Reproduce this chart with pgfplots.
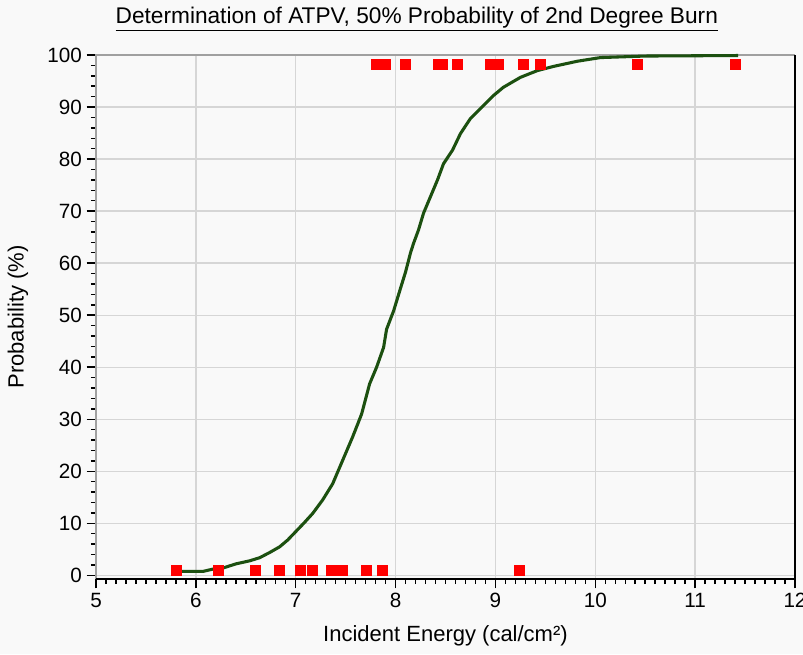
\documentclass[border=0pt]{standalone}
\usepackage{fontspec}
\setmainfont{Liberation Sans}
\usepackage{pgfplots}
\pgfplotsset{compat=1.18}
\definecolor{bg}{HTML}{F9F9F9}
\definecolor{gridc}{HTML}{D6D6D6}
\definecolor{fitc}{HTML}{1C5010}
\definecolor{frame}{HTML}{A0A0A0}

\begin{document}
\begin{tikzpicture}[font=\fontsize{15.5}{18}\selectfont]
% canvas, 0.75pt per reference pixel
\fill[bg] (-72pt,-56.25pt) rectangle (530.25pt,434.25pt);
\useasboundingbox (-72pt,-56.25pt) rectangle (530.25pt,434.25pt);
\begin{axis}[scale only axis,width=524.25pt,height=393pt,
 xmin=5,xmax=12,ymin=-0.7,ymax=100,
 xtick={5,...,12},ytick={0,10,...,100},
 minor x tick num=9,minor y tick num=4,
 xtick pos=bottom,ytick pos=left,tick align=outside,
 major tick length=7pt,minor tick length=3.75pt,
 tick style={black,line width=1.1pt},
 grid=major,grid style={gridc,line width=1pt},
 axis line style={draw=none},
 /pgf/number format/assume math mode=true,
 every axis title shift=0pt,
 title={\underline{Determination of ATPV, 50\% Probability of 2nd Degree Burn}},
 title style={at={(axis description cs:0.459,1.069)},anchor=center,font=\fontsize{17}{20}\selectfont},
 xlabel={Incident Energy (cal/cm²)},
 xlabel style={at={(axis description cs:0.5,-0.1088)},anchor=center,font=\fontsize{16.5}{19}\selectfont},
 ylabel={Probability (\%)},
 ylabel style={at={(axis description cs:-0.1116,0.5)},anchor=center,font=\fontsize{16.5}{19}\selectfont},
 clip=false]
\draw[frame,line width=1.2pt] (rel axis cs:0,0) -- (rel axis cs:0,1) -- (rel axis cs:1,1);
\draw[black,line width=1.4pt] (rel axis cs:0,0) -- (rel axis cs:1,0) -- (rel axis cs:1,1);
\addplot[fitc,line width=2.3pt,no marks] coordinates {
 (5.80,0.75) (6.07,0.75) (6.17,1.2) (6.27,1.4) (6.40,2.2) (6.54,2.8)
 (6.64,3.4) (6.74,4.4) (6.84,5.5) (6.92,6.8) (7.00,8.4) (7.08,10.0)
 (7.17,11.9) (7.27,14.5) (7.37,17.6) (7.47,22.1) (7.57,26.6) (7.66,31.0)
 (7.74,36.8) (7.81,40.0) (7.88,43.8) (7.91,47.3) (7.98,50.8) (8.05,55.2)
 (8.10,58.3) (8.15,62.0) (8.18,63.8) (8.23,66.4) (8.28,69.6) (8.35,72.8)
 (8.42,76.0) (8.48,79.1) (8.57,81.7) (8.65,84.9) (8.75,87.8) (8.85,89.7)
 (8.98,92.2) (9.08,93.8) (9.25,95.7) (9.42,97.0) (9.58,97.8) (9.82,98.8)
 (10.05,99.5) (10.50,99.8) (11.43,99.9)};
\addplot[only marks,mark=square*,mark size=3.75pt,red,mark options={draw=none,fill=red}] coordinates {
 (5.80,0.9) (6.22,0.9) (6.59,0.9) (6.84,0.9) (7.05,0.9) (7.17,0.9)
 (7.36,0.9) (7.47,0.9) (7.71,0.9) (7.87,0.9) (9.24,0.9)};
\addplot[only marks,mark=square*,mark size=3.75pt,red,mark options={draw=none,fill=red}] coordinates {
 (7.81,98.3) (7.90,98.3) (8.10,98.3) (8.43,98.3) (8.47,98.3) (8.62,98.3)
 (8.95,98.3) (9.03,98.3) (9.28,98.3) (9.45,98.3) (10.42,98.3) (11.40,98.3)};
\end{axis}
\end{tikzpicture}
\end{document}
